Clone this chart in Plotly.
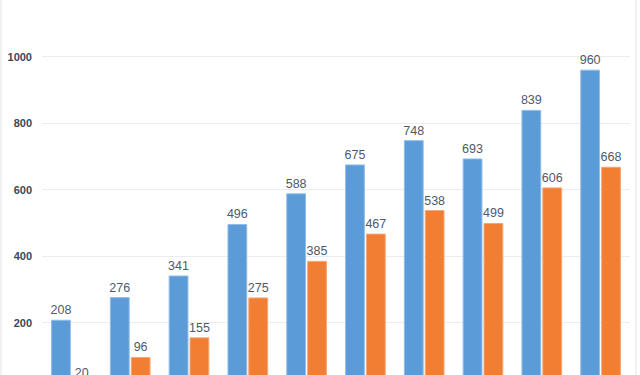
import plotly.graph_objects as go

categories = ["1", "2", "3", "4", "5", "6", "7", "8", "9", "10"]
series_a = [208, 276, 341, 496, 588, 675, 748, 693, 839, 960]
series_b = [20, 96, 155, 275, 385, 467, 538, 499, 606, 668]
y_ticks = [200, 400, 600, 800, 1000]

label_font = dict(family="Liberation Sans, Arial, sans-serif", size=12.5, color="#50596a")

fig = go.Figure()
fig.add_trace(go.Bar(
    x=categories, y=series_a, name="A",
    marker=dict(color="#5b9bd8", line=dict(color="#8fbde8", width=1)),
    text=[str(v) for v in series_a], textposition="outside",
    textfont=label_font, cliponaxis=False, constraintext="none",
))
fig.add_trace(go.Bar(
    x=categories, y=series_b, name="B",
    marker=dict(color="#f27e33", line=dict(color="#f6a673", width=1)),
    text=[str(v) for v in series_b], textposition="outside",
    textfont=label_font, cliponaxis=False, constraintext="none",
))

fig.update_layout(
    width=640, height=420,
    margin=dict(l=42, r=10, t=0, b=0),
    paper_bgcolor="white", plot_bgcolor="white",
    barmode="group", bargap=0.29, bargroupgap=0.1,
    showlegend=False,
    xaxis=dict(showticklabels=False, showgrid=False, zeroline=False, showline=False),
    yaxis=dict(
        range=[-92, 1171], tickvals=y_ticks,
        ticktext=[str(v) for v in y_ticks],
        showgrid=True, gridcolor="#e9ecf1", gridwidth=1,
        zeroline=False, showline=False, ticks="",
        ticklabelstandoff=9,
        tickfont=dict(family="Liberation Sans, Arial, sans-serif", size=11, color="#3a4758", weight="bold"),
    ),
)
fig.add_shape(type="rect", xref="paper", yref="paper",
              x0=-41/588, x1=1 + 6/588, y0=-0.1, y1=1.1,
              line=dict(color="#e3e3e3", width=1), layer="below")

fig.write_html(
    "out.html",
    config={"displayModeBar": False},
    post_script="document.body.style.margin='0';document.body.style.overflow='hidden';document.documentElement.style.overflow='hidden';",
)
